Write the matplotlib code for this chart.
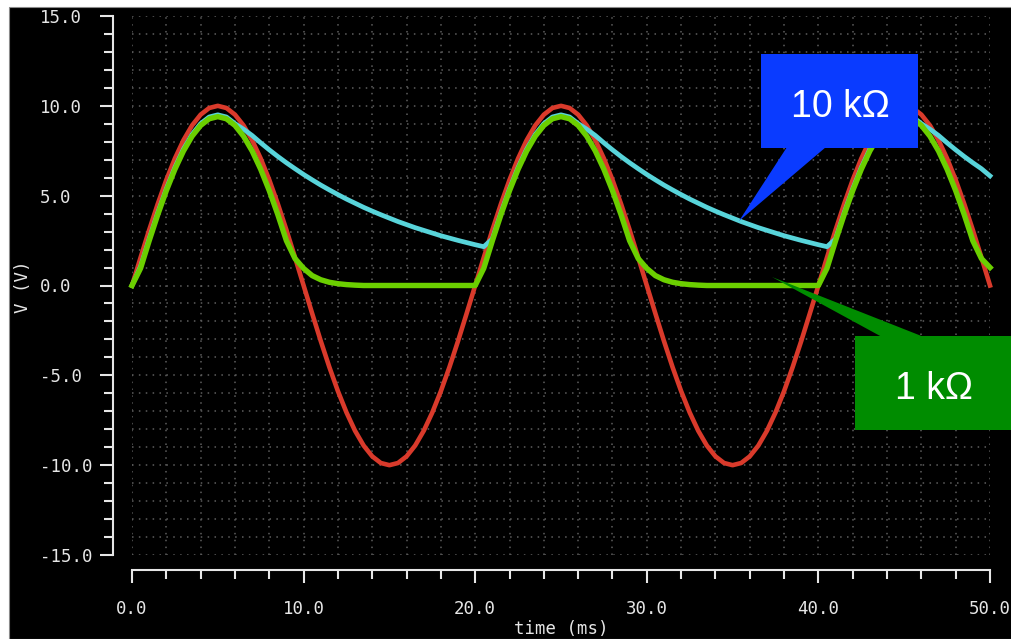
import numpy as np
import matplotlib
matplotlib.use("Agg")
import matplotlib.pyplot as plt
from matplotlib.patches import Rectangle, Polygon

# ---- data: half-wave rectifier, source vs. load voltage (sampled every 0.5 ms) ----
time_ms = np.arange(0, 50.5, 0.5)

v_source = [
    0.00, 1.56, 3.09, 4.54, 5.88, 7.07, 8.09, 8.91, 9.51, 9.88,
    10.0, 9.88, 9.51, 8.91, 8.09, 7.07, 5.88, 4.54, 3.09, 1.56,
    0.00, -1.56, -3.09, -4.54, -5.88, -7.07, -8.09, -8.91, -9.51, -9.88,
    -10.0, -9.88, -9.51, -8.91, -8.09, -7.07, -5.88, -4.54, -3.09, -1.56,
    0.00, 1.56, 3.09, 4.54, 5.88, 7.07, 8.09, 8.91, 9.51, 9.88,
    10.0, 9.88, 9.51, 8.91, 8.09, 7.07, 5.88, 4.54, 3.09, 1.56,
    0.00, -1.56, -3.09, -4.54, -5.88, -7.07, -8.09, -8.91, -9.51, -9.88,
    -10.0, -9.88, -9.51, -8.91, -8.09, -7.07, -5.88, -4.54, -3.09, -1.56,
    0.00, 1.56, 3.09, 4.54, 5.88, 7.07, 8.09, 8.91, 9.51, 9.88,
    10.0, 9.88, 9.51, 8.91, 8.09, 7.07, 5.88, 4.54, 3.09, 1.56,
    0.00,
]

# load = 1 kOhm
v_1k = [
    0.00, 0.96, 2.49, 3.94, 5.28, 6.47, 7.49, 8.31, 8.91, 9.28,
    9.40, 9.28, 8.91, 8.31, 7.49, 6.47, 5.28, 3.94, 2.49, 1.50,
    0.95, 0.55, 0.32, 0.18, 0.10, 0.05, 0.02, 0.00, 0.00, 0.00,
    0.00, 0.00, 0.00, 0.00, 0.00, 0.00, 0.00, 0.00, 0.00, 0.00,
    0.00, 0.96, 2.49, 3.94, 5.28, 6.47, 7.49, 8.31, 8.91, 9.28,
    9.40, 9.28, 8.91, 8.31, 7.49, 6.47, 5.28, 3.94, 2.49, 1.50,
    0.95, 0.55, 0.32, 0.18, 0.10, 0.05, 0.02, 0.00, 0.00, 0.00,
    0.00, 0.00, 0.00, 0.00, 0.00, 0.00, 0.00, 0.00, 0.00, 0.00,
    0.00, 0.96, 2.49, 3.94, 5.28, 6.47, 7.49, 8.31, 8.91, 9.28,
    9.40, 9.28, 8.91, 8.31, 7.49, 6.47, 5.28, 3.94, 2.49, 1.50,
    1.00,
]

# load = 10 kOhm
v_10k = [
    0.00, 1.06, 2.59, 4.04, 5.38, 6.57, 7.59, 8.41, 9.01, 9.38,
    9.50, 9.38, 9.01, 8.70, 8.35, 7.94, 7.55, 7.18, 6.83, 6.50,
    6.18, 5.88, 5.59, 5.32, 5.06, 4.81, 4.58, 4.35, 4.14, 3.94,
    3.75, 3.56, 3.39, 3.22, 3.07, 2.92, 2.77, 2.64, 2.51, 2.39,
    2.27, 2.16, 2.59, 4.04, 5.38, 6.57, 7.59, 8.41, 9.01, 9.38,
    9.50, 9.38, 9.01, 8.70, 8.35, 7.94, 7.55, 7.18, 6.83, 6.50,
    6.18, 5.88, 5.59, 5.32, 5.06, 4.81, 4.58, 4.35, 4.14, 3.94,
    3.75, 3.56, 3.39, 3.22, 3.07, 2.92, 2.77, 2.64, 2.51, 2.39,
    2.27, 2.16, 2.59, 4.04, 5.38, 6.57, 7.59, 8.41, 9.01, 9.38,
    9.50, 9.38, 9.01, 8.70, 8.35, 7.94, 7.55, 7.18, 6.83, 6.50,
    6.10,
]

x_ticks = [0, 10, 20, 30, 40, 50]
x_tick_labels = ["0.0", "10.0", "20.0", "30.0", "40.0", "50.0"]
y_ticks = [-15, -10, -5, 0, 5, 10, 15]
y_tick_labels = ["-15.0", "-10.0", "-5.0", "0.0", "5.0", "10.0", "15.0"]

# ---- style ----
fg = "#E6E6E6"
plt.rcParams.update({
    "font.family": "DejaVu Sans Mono",
    "font.size": 12.5,
    "text.color": fg,
    "xtick.color": fg,
    "ytick.color": fg,
    "xtick.labelcolor": fg,
    "ytick.labelcolor": fg,
})

W, H = 1012, 639
fig = plt.figure(figsize=(W / 100, H / 100), dpi=100, facecolor="white")

# black scope background (white margin on top and left)
fig.add_artist(Rectangle((9 / W, 0), 1 - 9 / W, 1 - 7 / H, transform=fig.transFigure,
                         facecolor="black", edgecolor="#8a8a8a", linewidth=0.8, zorder=-5))

ax = fig.add_axes([132 / W, 1 - 555 / H, (990 - 132) / W, (555 - 16) / H])
ax.set_facecolor("none")
ax.set_xlim(0, 50)
ax.set_ylim(-15, 15)

ax.plot(time_ms, v_source, color="#D93A2B", lw=3.3, zorder=3, clip_on=False)
ax.plot(time_ms, v_10k, color="#58D4DA", lw=3.4, zorder=4, clip_on=False)
ax.plot(time_ms, v_1k, color="#6BCF00", lw=3.9, zorder=5, clip_on=False)

ax.grid(which="both", color="#5e5e5e", linestyle=(0, (1, 3.5)), linewidth=1.1)
ax.set_axisbelow(True)

for side in ("top", "right"):
    ax.spines[side].set_visible(False)
ax.spines["left"].set_position(("outward", 19 * 0.72))
ax.spines["bottom"].set_position(("outward", 15 * 0.72))
for side in ("left", "bottom"):
    ax.spines[side].set_color(fg)
    ax.spines[side].set_linewidth(1.5)

ax.tick_params(which="both", direction="out", color=fg, width=1.5, labelcolor=fg)
ax.tick_params(which="major", length=9.4)
ax.tick_params(which="minor", length=6.3)
ax.tick_params(axis="y", which="major", pad=43.2)
ax.tick_params(axis="x", which="major", pad=12.5)

ax.set_xticks(x_ticks)
ax.set_xticks(np.arange(0, 51, 2), minor=True)
ax.set_yticks(y_ticks)
ax.set_yticks(np.arange(-15, 16, 1), minor=True)
ax.set_xticklabels(x_tick_labels)
ax.set_yticklabels(y_tick_labels)
for lbl in ax.get_yticklabels():
    lbl.set_horizontalalignment("left")

# ---- overlay in pixel coordinates: axis titles and callouts ----
ov = fig.add_axes([0, 0, 1, 1], zorder=10)
ov.set_xlim(0, W)
ov.set_ylim(H, 0)
ov.axis("off")

ov.text(23, 287, "V (V)", rotation=90, ha="center", va="center", color=fg)
ov.text(561, 638, "time (ms)", ha="center", va="bottom", color=fg)

blue = "#0A3BFF"
ov.add_patch(Rectangle((761, 54), 157, 94, facecolor=blue, edgecolor="none"))
ov.add_patch(Polygon([(787, 147), (826, 147), (739, 221)], closed=True,
                     facecolor=blue, edgecolor="none"))
ov.text(840, 117, "10 k\u03a9", ha="center", va="baseline",
        family="Liberation Sans", fontsize=27, color="white")

green = "#008C00"
ov.add_patch(Rectangle((855, 336), 160, 94, facecolor=green, edgecolor="none"))
ov.add_patch(Polygon([(882, 337), (924, 337), (772, 277)], closed=True,
                     facecolor=green, edgecolor="none"))
ov.text(934, 399, "1 k\u03a9", ha="center", va="baseline",
        family="Liberation Sans", fontsize=27, color="white")

fig.savefig("out.png", dpi=100, facecolor=fig.get_facecolor())
